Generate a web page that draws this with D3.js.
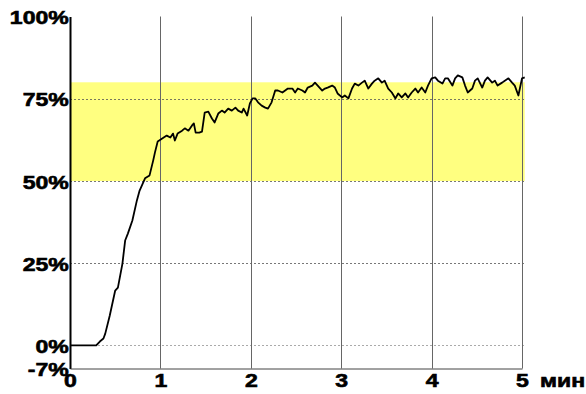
<!DOCTYPE html>
<html>
<head>
<meta charset="utf-8">
<script src="https://cdn.jsdelivr.net/npm/d3@7"></script>
<style>
  body { margin: 0; background: #fff; }
  svg { display: block; }
</style>
</head>
<body>
<div id="chart"></div>
<script>
// time, minutes
var times = [0, 0.29, 0.33, 0.37, 0.39, 0.44, 0.50, 0.53, 0.58, 0.61, 0.64, 0.69, 0.74, 0.77, 0.83, 0.88,
    0.92, 0.94, 0.97, 1.02, 1.07, 1.11, 1.14, 1.16, 1.19, 1.24, 1.27, 1.31, 1.35, 1.37, 1.39, 1.43,
    1.46, 1.49, 1.53, 1.57, 1.60, 1.64, 1.68, 1.71, 1.75, 1.79, 1.83, 1.86, 1.90, 1.92, 1.96, 1.99,
    2.02, 2.05, 2.08, 2.12, 2.16, 2.19, 2.23, 2.27, 2.30, 2.35, 2.38, 2.41, 2.46, 2.49, 2.52, 2.57,
    2.60, 2.63, 2.68, 2.71, 2.74, 2.79, 2.82, 2.85, 2.90, 2.93, 2.96, 3.01, 3.04, 3.08, 3.12, 3.15,
    3.19, 3.23, 3.26, 3.30, 3.34, 3.37, 3.41, 3.45, 3.48, 3.52, 3.56, 3.60, 3.63, 3.67, 3.71, 3.74,
    3.78, 3.82, 3.85, 3.89, 3.93, 3.96, 4.00, 4.04, 4.07, 4.12, 4.15, 4.18, 4.23, 4.26, 4.29, 4.34,
    4.37, 4.40, 4.45, 4.48, 4.51, 4.56, 4.59, 4.62, 4.67, 4.70, 4.73, 4.78, 4.81, 4.85, 4.89, 4.92,
    4.96, 5.00, 5.03];

// level, percent
var values = [0, 0, 1.2, 2.1, 3.6, 9.1, 16.7, 17.6, 24.9, 31.9, 34.0, 38.0, 44.1, 47.1, 50.8, 51.7,
    56.2, 58.7, 62.0, 62.9, 63.8, 63.2, 64.4, 62.3, 64.4, 65.3, 66.0, 65.3, 66.9, 67.5, 64.7, 64.7,
    65.0, 70.8, 71.1, 69.0, 67.8, 70.5, 71.4, 70.8, 72.0, 71.4, 72.3, 71.4, 70.8, 72.0, 69.9, 73.6,
    75.1, 75.1, 73.9, 72.9, 72.3, 72.0, 73.9, 77.5, 77.5, 76.9, 77.5, 78.1, 78.1, 76.9, 78.1, 77.5,
    76.9, 78.4, 79.0, 79.9, 79.0, 77.5, 78.1, 78.4, 79.0, 78.4, 76.6, 75.4, 76.0, 75.1, 78.1, 79.6,
    79.0, 79.9, 80.5, 78.1, 79.6, 80.5, 81.2, 79.9, 80.5, 78.1, 76.9, 75.1, 76.6, 75.4, 76.6, 75.4,
    76.9, 78.1, 76.9, 78.4, 76.9, 79.0, 81.2, 81.5, 80.5, 79.6, 81.2, 81.2, 79.0, 81.2, 82.1, 81.5,
    79.0, 76.9, 78.1, 80.5, 81.2, 78.4, 80.5, 81.5, 79.9, 80.5, 79.0, 79.9, 80.5, 81.2, 79.9, 79.0,
    76.0, 81.2, 81.5];

var xTicks = [0, 1, 2, 3, 4, 5];
var yTicks = [-7, 0, 25, 50, 75, 100];
var gridLevels = [25, 50, 75];
var bandLow = 50, bandHigh = 80;
var xUnit = "мин";

var w = 586, h = 394;

var svg = d3.select("#chart")
    .append("svg")
    .attr("width", w)
    .attr("height", h);

var x = d3.scaleLinear().domain([0, 5]).range([70, 522]);
var y = d3.scaleLinear().domain([-7, 100]).range([368.5, 16.5]);

// yellow target band
svg.append("rect")
    .attr("x", x(0))
    .attr("y", y(bandHigh))
    .attr("width", x(5.03) - x(0))
    .attr("height", y(bandLow) - y(bandHigh))
    .attr("fill", "#ffff80");

// horizontal dashed grid
svg.selectAll(".hgrid")
    .data(gridLevels)
    .enter()
    .append("line")
    .attr("x1", x(0))
    .attr("x2", x(5.03))
    .attr("y1", function(d) { return Math.round(y(d)) + 0.5; })
    .attr("y2", function(d) { return Math.round(y(d)) + 0.5; })
    .attr("stroke", "#555")
    .attr("stroke-width", 0.8)
    .attr("stroke-dasharray", "2,2");

// zero line is lighter
svg.append("line")
    .attr("x1", x(0))
    .attr("x2", x(5.03))
    .attr("y1", Math.round(y(0)) + 0.5)
    .attr("y2", Math.round(y(0)) + 0.5)
    .attr("stroke", "#aaa")
    .attr("stroke-width", 1)
    .attr("stroke-dasharray", "2,2");

// vertical grid
svg.selectAll(".vgrid")
    .data(xTicks.slice(1))
    .enter()
    .append("line")
    .attr("x1", function(d) { return Math.round(x(d)) + 0.5; })
    .attr("x2", function(d) { return Math.round(x(d)) + 0.5; })
    .attr("y1", y(100))
    .attr("y2", y(-7))
    .attr("stroke", "#666")
    .attr("stroke-width", 1);

// data line
var line = d3.line()
    .x(function(d, i) { return x(times[i]); })
    .y(function(d) { return y(d); });

svg.append("path")
    .datum(values)
    .attr("d", line)
    .attr("fill", "none")
    .attr("stroke", "#000")
    .attr("stroke-width", 1.8)
    .attr("stroke-linejoin", "round");

// axes
var yAxis = svg.append("g")
    .attr("transform", "translate(" + x(0) + ",0)")
    .call(d3.axisLeft(y).tickValues(yTicks).tickSize(0).tickSizeOuter(0).tickPadding(1)
        .tickFormat(function(d) { return d + "%"; }));

var xAxis = svg.append("g")
    .attr("transform", "translate(0," + y(-7) + ")")
    .call(d3.axisBottom(x).tickValues(xTicks).tickSize(0).tickSizeOuter(0).tickPadding(6)
        .tickFormat(d3.format("d")));

yAxis.select(".domain").attr("stroke", "#000").attr("stroke-width", 2);
xAxis.select(".domain").attr("stroke", "#444").attr("stroke-width", 1);

// heavy, wide labels like the original
svg.selectAll(".tick text")
    .attr("font-family", "'Liberation Sans', Arial, sans-serif")
    .attr("font-weight", "bold")
    .attr("font-size", 18)
    .attr("fill", "#000")
    .attr("stroke", "#000")
    .attr("stroke-width", 0.6)
    .attr("transform", "scale(1.28,1)");

yAxis.selectAll(".tick text").attr("dy", "0.4em");

svg.append("text")
    .attr("x", 540)
    .attr("y", 387)
    .attr("font-family", "'Liberation Sans', Arial, sans-serif")
    .attr("font-weight", "bold")
    .attr("font-size", 18)
    .attr("stroke", "#000")
    .attr("stroke-width", 0.6)
    .attr("transform", "translate(540,0) scale(1.28,1) translate(-540,0)")
    .text(xUnit);
</script>
</body>
</html>
